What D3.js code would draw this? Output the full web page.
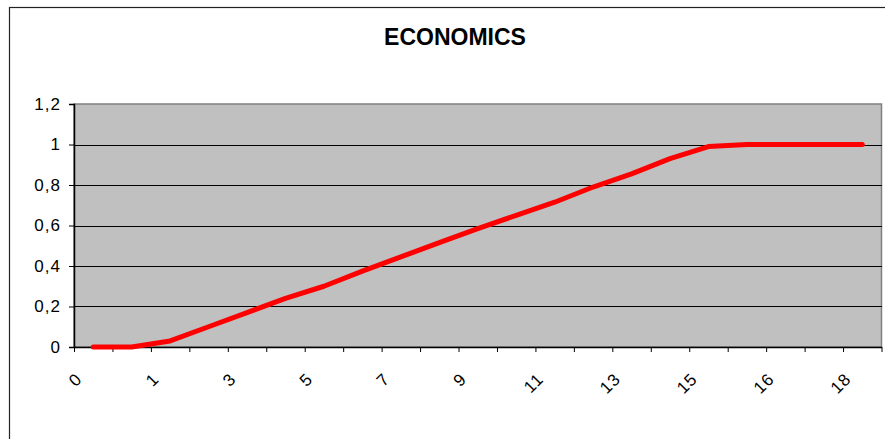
<!DOCTYPE html>
<html>
<head>
<meta charset="utf-8">
<style>
    body {
        margin: 0;
        background: #fff;
        font-family: "Liberation Sans", Arial, sans-serif;
    }
    svg {
        display: block;
    }
    .title {
        font-size: 23px;
        font-weight: bold;
        text-anchor: middle;
    }
    .y-axis text, .x-label {
        font-size: 17px;
        letter-spacing: 1px;
        fill: #000;
    }
    .grid line {
        stroke: #000;
        shape-rendering: crispEdges;
    }
    .series {
        fill: none;
        stroke: #ff0000;
        stroke-width: 5;
        stroke-linejoin: round;
        stroke-linecap: round;
    }
</style>
</head>
<body>
<script src="https://cdn.jsdelivr.net/npm/d3@7"></script>
<script>

    // category labels (only every other one is printed on the axis)
    var categories = ["0", "0", "1", "2", "3", "4", "5", "6", "7", "8", "9",
                      "10", "11", "12", "13", "14", "15", "15", "16", "17", "18"];

    var values = [0, 0, 0.03, 0.10, 0.17, 0.24, 0.30, 0.375, 0.445, 0.515, 0.585,
                  0.65, 0.715, 0.79, 0.855, 0.93, 0.99, 1.0, 1.0, 1.0, 1.0];

    var yTicks = [0, 0.2, 0.4, 0.6, 0.8, 1, 1.2];

    var width = 885,
        height = 439,
        plotLeft = 74,
        plotRight = 881.5,
        plotTop = 104,
        plotBottom = 347;

    var commaLocale = d3.formatLocale({decimal: ",", thousands: ".", grouping: [3], currency: ["", ""]});
    var fmt = commaLocale.format("~g");

    var svg = d3.select("body").append("svg")
        .attr("width", width)
        .attr("height", height);

    // chart border (runs off the right and bottom of the picture)
    svg.append("rect")
        .attr("x", 9.5)
        .attr("y", 7.5)
        .attr("width", width + 20)
        .attr("height", height + 20)
        .attr("fill", "#fff")
        .attr("stroke", "#222")
        .attr("stroke-width", 1.2);

    svg.append("text")
        .attr("class", "title")
        .attr("x", 455)
        .attr("y", 45)
        .text("ECONOMICS");

    var x = d3.scaleLinear()
        .domain([-0.5, categories.length - 0.5])
        .range([plotLeft, plotRight]);

    var y = d3.scaleLinear()
        .domain([0, 1.2])
        .range([plotBottom, plotTop]);

    // plot area
    svg.append("rect")
        .attr("x", plotLeft)
        .attr("y", plotTop)
        .attr("width", plotRight - plotLeft)
        .attr("height", plotBottom - plotTop)
        .attr("fill", "#c0c0c0")
        .attr("stroke", "#808080")
        .attr("stroke-width", 1.5);

    svg.append("g")
        .attr("class", "grid")
        .selectAll("line")
        .data(yTicks.filter(function(d) {return d > 0 && d < 1.2}))
      .enter().append("line")
        .attr("x1", plotLeft)
        .attr("x2", plotRight)
        .attr("y1", function(d) {return Math.round(y(d)) + 0.5})
        .attr("y2", function(d) {return Math.round(y(d)) + 0.5});

    // y axis
    var yAxis = svg.append("g")
        .attr("class", "y-axis")
        .attr("transform", "translate(" + plotLeft + ",0)")
        .call(d3.axisLeft(y).tickValues(yTicks).tickFormat(fmt).tickSize(5).tickPadding(8));
    yAxis.select(".domain").attr("stroke", "#000").attr("stroke-width", 1.5);
    yAxis.selectAll("text").attr("font-family", "Liberation Sans, Arial, sans-serif").attr("font-size", 17);

    // x axis: ticks sit between categories
    var boundaries = d3.range(categories.length + 1).map(function(i) {return i - 0.5});
    var xAxis = svg.append("g")
        .attr("transform", "translate(0," + plotBottom + ")")
        .call(d3.axisBottom(x).tickValues(boundaries).tickFormat("").tickSize(5).tickSizeOuter(0));
    xAxis.select(".domain").attr("stroke", "#000").attr("stroke-width", 1.5);

    svg.append("g")
        .selectAll("text")
        .data(categories.map(function(c, i) {return {label: c, i: i}})
            .filter(function(d) {return d.i % 2 === 0}))
      .enter().append("text")
        .attr("class", "x-label")
        .attr("text-anchor", "end")
        .attr("transform", function(d) {
            return "translate(" + (x(d.i) - 10) + ",380) rotate(-45)";
        })
        .text(function(d) {return d.label});

    var line = d3.line()
        .x(function(d, i) {return x(i)})
        .y(function(d) {return y(d)});

    svg.append("path")
        .datum(values)
        .attr("class", "series")
        .attr("d", line);
</script>
</body>
</html>
